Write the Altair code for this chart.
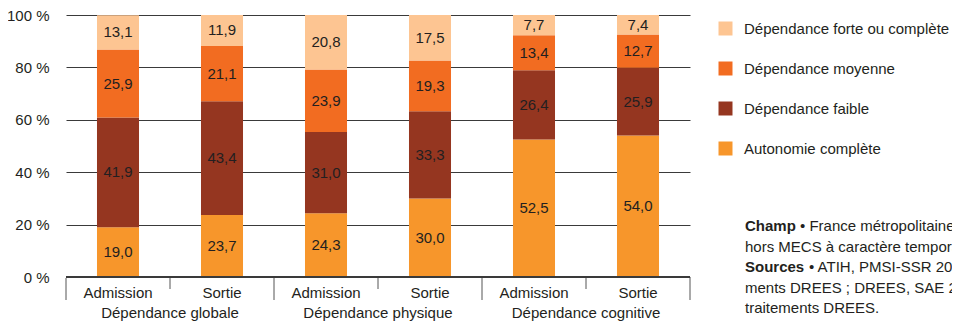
import altair as alt
import pandas as pd

FONT = "Liberation Sans, Arial, sans-serif"
TXT = "#231f20"
FS = 15

groups = ["Dépendance globale", "Dépendance physique", "Dépendance cognitive"]
moments = ["Admission", "Sortie"]
categories = ["Dépendance forte ou complète", "Dépendance moyenne",
              "Dépendance faible", "Autonomie complète"]
colors = ["#FDC592", "#F26C21", "#953620", "#F7962B"]

autonomie = [19.0, 23.7, 24.3, 30.0, 52.5, 54.0]
faible = [41.9, 43.4, 31.0, 33.3, 26.4, 25.9]
moyenne = [25.9, 21.1, 23.9, 19.3, 13.4, 12.7]
forte = [13.1, 11.9, 20.8, 17.5, 7.7, 7.4]

notes = [
    ("Champ", "• France métropolitaine, établissements SSR"),
    ("", "hors MECS à caractère temporaire."),
    ("Sources", "• ATIH, PMSI-SSR 2008, traite-"),
    ("", "ments DREES ; DREES, SAE 2008,"),
    ("", "traitements DREES."),
]

bar_ids = [f"{g}|{m}" for g in groups for m in moments]
series = {"Autonomie complète": autonomie, "Dépendance faible": faible,
          "Dépendance moyenne": moyenne, "Dépendance forte ou complète": forte}
stack_order = ["Autonomie complète", "Dépendance faible", "Dépendance moyenne",
               "Dépendance forte ou complète"]

rows = []
for i, b in enumerate(bar_ids):
    base = 0.0
    g, m = b.split("|")
    for c in stack_order:
        v = series[c][i]
        rows.append({"bar": b, "group": g, "moment": m, "cat": c, "v": v,
                     "y0": base, "y1": base + v, "mid": base + v / 2,
                     "label": f"{v:.1f}".replace(".", ",")})
        base += v
df = pd.DataFrame(rows)
bars_df = pd.DataFrame({"bar": bar_ids,
                        "group": [b.split("|")[0] for b in bar_ids],
                        "moment": [b.split("|")[1] for b in bar_ids]})

xscale = alt.Scale(domain=bar_ids, paddingInner=0, paddingOuter=0)
xaxis = alt.Axis(title=None, labelExpr="split(datum.value,'|')[1]", ticks=False,
                 domain=False, labelAngle=0, labelFontSize=FS, labelPadding=8,
                 labelColor=TXT, labelFont=FONT, grid=False)
yscale = alt.Scale(domain=[0, 100], nice=False, clamp=True)
yaxis = alt.Axis(title=None, values=[0, 20, 40, 60, 80, 100],
                 labelExpr="datum.value + ' %'", ticks=False, domain=False,
                 grid=True, gridColor="#3a3a3a", gridWidth=1, labelPadding=17,
                 labelFontSize=FS, labelColor=TXT, labelFont=FONT)

def X(**kw):
    return alt.X("bar:N", scale=xscale, axis=xaxis, sort=bar_ids, **kw)

bars = alt.Chart(df).mark_bar(width=alt.RelativeBandSize(0.404)).encode(
    x=X(),
    y=alt.Y("y0:Q", scale=yscale, axis=yaxis),
    y2="y1:Q",
    color=alt.Color("cat:N", scale=alt.Scale(domain=categories, range=colors),
                    legend=alt.Legend(title=None, orient="none", legendX=652,
                                      legendY=6, symbolType="square",
                                      symbolSize=196, symbolStrokeWidth=0,
                                      symbolOpacity=1, labelFontSize=FS,
                                      labelFont=FONT, labelColor=TXT,
                                      labelLimit=400,
                                      labelOffset=11, rowPadding=24, padding=0)),
)

labels = alt.Chart(df).mark_text(fontSize=FS, font=FONT, color=TXT).encode(
    x=X(), y=alt.Y("mid:Q", scale=yscale, axis=yaxis), text="label:N")

zero = alt.Chart(pd.DataFrame({"z": [0]})).mark_rule(color="#3a3a3a", strokeWidth=2).encode(
    y=alt.Y("z:Q", scale=yscale, axis=yaxis))

long_ticks = alt.Chart(bars_df).transform_filter("datum.moment == 'Admission'").mark_rule(
    color="#555", strokeWidth=1).encode(x=X(bandPosition=0), y=alt.value(263), y2=alt.value(285))
short_ticks = alt.Chart(bars_df).transform_filter("datum.moment == 'Sortie'").mark_rule(
    color="#555", strokeWidth=1).encode(x=X(bandPosition=0), y=alt.value(263), y2=alt.value(274))
end_tick = alt.Chart(bars_df).transform_filter(f"datum.bar == '{bar_ids[-1]}'").mark_rule(
    color="#555", strokeWidth=1).encode(x=X(bandPosition=1), y=alt.value(263), y2=alt.value(285))

group_labels = alt.Chart(bars_df).transform_filter("datum.moment == 'Admission'").mark_text(
    fontSize=FS, font=FONT, color=TXT).encode(
    x=X(bandPosition=1), y=alt.value(298), text="group:N")

note_layers = []
for k, (bold, rest) in enumerate(notes):
    yv = 211 + k * 20.5
    if bold:
        note_layers.append(alt.Chart(pd.DataFrame({"t": [bold]})).mark_text(
            fontSize=FS, font=FONT, color=TXT, fontWeight="bold", align="left").encode(
            x=alt.value(679), y=alt.value(yv), text="t:N"))
        xr = 679 + (55 if bold == "Champ" else 64)
    else:
        xr = 679
    note_layers.append(alt.Chart(pd.DataFrame({"t": [rest]})).mark_text(
        fontSize=FS, font=FONT, color=TXT, align="left").encode(
        x=alt.value(xr), y=alt.value(yv), text="t:N"))

chart = alt.layer(bars, labels, zero, long_ticks, short_ticks, end_tick,
                  group_labels, *note_layers).properties(
    width=624, height=262,
    autosize=alt.AutoSizeParams(type="none"),
    padding={"left": 58, "top": 7, "right": 262, "bottom": 47},
).configure_view(stroke=None)

chart.save("out.html", embed_options={"renderer": "svg", "actions": False})
